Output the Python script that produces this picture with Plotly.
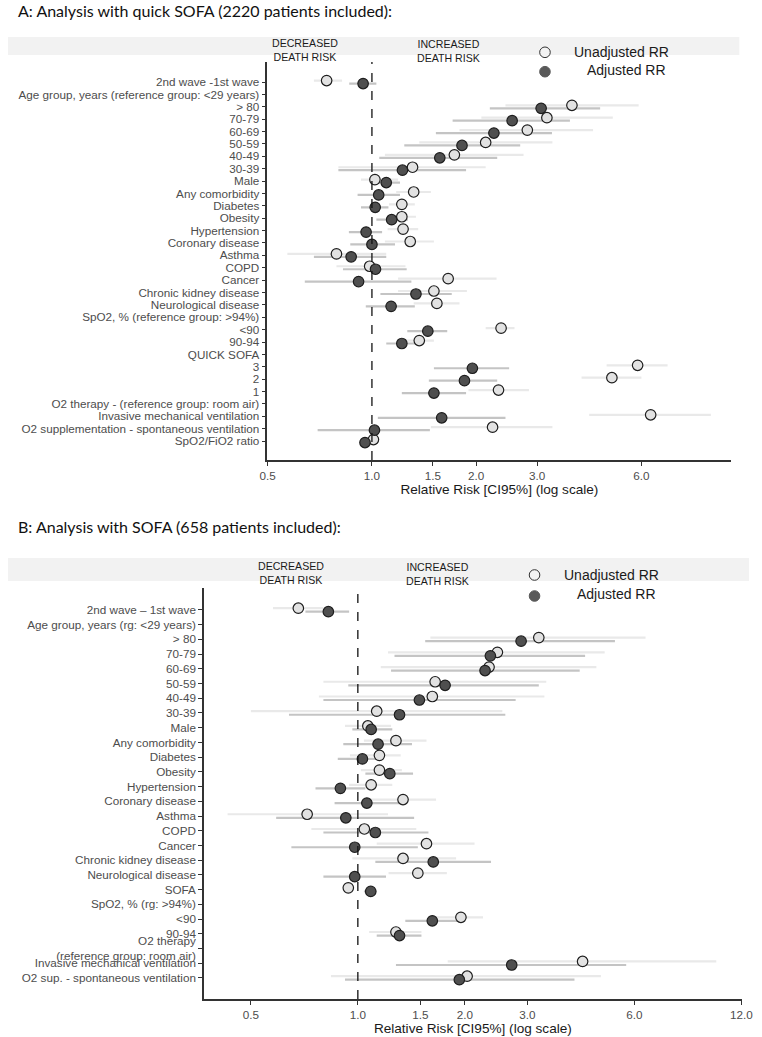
import math
import plotly.graph_objects as go

W, H = 762, 1037

# ---------------- Panel A data ----------------
labels_a = [
    "2nd wave -1st wave", "Age group, years (reference group: <29 years)", "> 80", "70-79",
    "60-69", "50-59", "40-49", "30-39", "Male", "Any comorbidity", "Diabetes", "Obesity",
    "Hypertension", "Coronary disease", "Asthma", "COPD", "Cancer", "Chronic kidney disease",
    "Neurological disease", "SpO2, % (reference group: >94%)", "<90", "90-94", "QUICK SOFA",
    "3", "2", "1", "O2 therapy - (reference group: room air)", "Invasive mechanical ventilation",
    "O2 supplementation - spontaneous ventilation", "SpO2/FiO2 ratio",
]
unadj_a    = [0.74, None, 3.78, 3.20, 2.81, 2.13, 1.73, 1.31, 1.02, 1.32, 1.22, 1.22, 1.23, 1.29, 0.79, 0.985, 1.66, 1.51, 1.54, None, 2.36, 1.37, None, 5.85, 4.93, 2.32, None, 6.38, 2.23, 1.01]
unadj_lo_a = [0.68, None, 2.43, 2.07, 1.79, 1.37, 1.09, 0.80, 0.93, 1.175, 1.12, 1.12, 1.11, 1.09, 0.57, 0.79, 1.19, 1.19, 1.32, None, 2.13, 1.22, None, 4.76, 4.03, 1.90, None, 4.24, 1.48, 0.99]
unadj_hi_a = [0.82, None, 5.89, 4.96, 4.35, 3.32, 2.74, 2.13, 1.19, 1.48, 1.33, 1.34, 1.36, 1.51, 1.10, 1.25, 2.29, 1.88, 1.79, None, 2.58, 1.51, None, 7.14, 6.00, 2.84, None, 9.52, 3.32, 1.03]
adj_a      = [0.943, None, 3.08, 2.54, 2.25, 1.82, 1.57, 1.225, 1.10, 1.046, 1.022, 1.14, 0.962, 1.0, 0.871, 1.024, 0.915, 1.34, 1.136, None, 1.45, 1.22, None, 1.95, 1.85, 1.51, None, 1.59, 1.017, 0.955]
adj_lo_a   = [0.86, None, 2.19, 1.71, 1.53, 1.24, 1.05, 0.80, 1.013, 0.909, 0.93, 1.03, 0.858, 0.866, 0.68, 0.825, 0.64, 1.058, 0.96, None, 1.265, 1.10, None, 1.51, 1.46, 1.22, None, 1.04, 0.697, 0.93]
adj_hi_a   = [1.03, None, 4.56, 3.73, 3.31, 2.68, 2.30, 1.87, 1.205, 1.205, 1.116, 1.27, 1.07, 1.166, 1.10, 1.26, 1.30, 1.70, 1.33, None, 1.65, 1.34, None, 2.49, 2.30, 1.87, None, 2.43, 1.47, 0.98]

# ---------------- Panel B data ----------------
labels_b = [
    "2nd wave \u2013 1st wave", "Age group, years (rg: <29 years)", "> 80", "70-79", "60-69",
    "50-59", "40-49", "30-39", "Male", "Any comorbidity", "Diabetes", "Obesity", "Hypertension",
    "Coronary disease", "Asthma", "COPD", "Cancer", "Chronic kidney disease",
    "Neurological disease", "SOFA", "SpO2, % (rg: >94%)", "<90", "90-94",
    "O2 therapy<br>(reference group: room air)", "Invasive mechanical ventilation",
    "O2 sup. - spontaneous ventilation",
]
unadj_b    = [0.68, None, 3.23, 2.47, 2.34, 1.65, 1.62, 1.13, 1.067, 1.28, 1.15, 1.15, 1.09, 1.34, 0.72, 1.043, 1.56, 1.34, 1.475, 0.94, None, 1.95, 1.28, None, 4.29, 2.03]
unadj_lo_b = [0.577, None, 1.60, 1.216, 1.16, 0.80, 0.777, 0.50, 0.92, 1.04, 0.95, 1.02, 0.945, 1.05, 0.43, 0.74, 1.13, 0.965, 1.22, 0.91, None, 1.63, 1.076, None, 1.79, 0.84]
unadj_hi_b = [0.80, None, 6.45, 4.95, 4.69, 3.39, 3.35, 2.55, 1.24, 1.56, 1.32, 1.33, 1.25, 1.66, 1.216, 1.46, 2.13, 1.89, 1.78, 0.97, None, 2.25, 1.51, None, 10.2, 4.83]
adj_b      = [0.826, None, 2.88, 2.36, 2.28, 1.76, 1.49, 1.31, 1.09, 1.14, 1.03, 1.23, 0.893, 1.06, 0.925, 1.12, 0.98, 1.63, 0.98, 1.087, None, 1.62, 1.31, None, 2.71, 1.93]
adj_lo_b   = [0.712, None, 1.547, 1.268, 1.24, 0.94, 0.80, 0.64, 0.965, 0.91, 0.878, 1.05, 0.76, 0.86, 0.589, 0.80, 0.65, 1.12, 0.80, 1.04, None, 1.36, 1.13, None, 1.28, 0.92]
adj_hi_b   = [0.945, None, 5.29, 4.36, 4.21, 3.23, 2.78, 2.60, 1.25, 1.42, 1.14, 1.43, 1.05, 1.33, 1.44, 1.58, 1.475, 2.37, 1.20, 1.13, None, 1.97, 1.51, None, 5.69, 4.07]

x_ticks_a = [0.5, 1.0, 1.5, 2.0, 3.0, 6.0]
x_ticks_b = [0.5, 1.0, 1.5, 2.0, 3.0, 6.0, 12.0]

# ---------------- styling ----------------
UNADJ_FILL = "#e2e2e2"
ADJ_FILL = "#4f4f4f"
UNADJ_CI = "#e9e9e9"
ADJ_CI = "#c4c4c4"
EDGE = "#1e1e1e"
AXIS_COL = "#333333"
TICK_FONT = dict(family="Liberation Sans, Arial, sans-serif", size=11.7, color="#4d4d4d")
DODGE = 0.12


def px(x):
    return x / W


def py(y):
    return 1 - y / H


fig = go.Figure()


def add_panel(labels, u, ulo, uhi, a, alo, ahi, xa, ya):
    n = len(labels)
    ypos = list(range(n))
    for vals, lo, hi, col, off in ((u, ulo, uhi, UNADJ_CI, -DODGE), (a, alo, ahi, ADJ_CI, DODGE)):
        xs, ys = [], []
        for i in ypos:
            if vals[i] is None:
                continue
            xs += [lo[i], hi[i], None]
            ys += [i + off, i + off, None]
        fig.add_trace(go.Scatter(x=xs, y=ys, mode="lines", line=dict(color=col, width=2.2),
                                 hoverinfo="skip", showlegend=False, xaxis=xa, yaxis=ya))
    for vals, col, off in ((u, UNADJ_FILL, -DODGE), (a, ADJ_FILL, DODGE)):
        xs = [vals[i] for i in ypos if vals[i] is not None]
        ys = [i + off for i in ypos if vals[i] is not None]
        fig.add_trace(go.Scatter(x=xs, y=ys, mode="markers",
                                 marker=dict(size=10.5, color=col, line=dict(color=EDGE, width=1.2)),
                                 showlegend=False, xaxis=xa, yaxis=ya))


add_panel(labels_a, unadj_a, unadj_lo_a, unadj_hi_a, adj_a, adj_lo_a, adj_hi_a, "x", "y")
add_panel(labels_b, unadj_b, unadj_lo_b, unadj_hi_b, adj_b, adj_lo_b, adj_hi_b, "x2", "y2")

xaxis_common = dict(type="log", showgrid=False, zeroline=False, showline=True,
                    linecolor=AXIS_COL, linewidth=1.5, ticks="outside", ticklen=4,
                    tickcolor=AXIS_COL, tickfont=TICK_FONT, ticklabeloverflow="allow",
                    title=dict(text="Relative Risk [CI95%] (log scale)",
                               font=dict(family="Liberation Sans, Arial, sans-serif", size=13.6, color="#1a1a1a"),
                               standoff=2))
yaxis_common = dict(showgrid=False, zeroline=False, showline=True, linecolor=AXIS_COL,
                    linewidth=1.5, ticks="outside", ticklen=4, tickcolor=AXIS_COL,
                    tickfont=TICK_FONT, tickmode="array")

fig.update_layout(
    width=W, height=H, margin=dict(l=0, r=0, t=0, b=0),
    paper_bgcolor="white", plot_bgcolor="white",
    xaxis=dict(xaxis_common, domain=[px(266), px(742)], anchor="y",
               range=[math.log10(0.499), math.log10(10.92)],
               tickvals=x_ticks_a, ticktext=[f"{v:.1f}" for v in x_ticks_a]),
    yaxis=dict(yaxis_common, domain=[py(460), py(62)], anchor="x",
               range=[len(labels_a) - 1 + 1.53, -1.62],
               tickvals=list(range(len(labels_a))), ticktext=labels_a),
    xaxis2=dict(xaxis_common, domain=[px(201), px(752.5)], anchor="y2",
                range=[math.log10(0.369), math.log10(12.03)],
                tickvals=x_ticks_b, ticktext=[f"{v:.1f}" for v in x_ticks_b]),
    yaxis2=dict(yaxis_common, domain=[py(999), py(588)], anchor="x2",
                range=[len(labels_b) - 1 + 1.43, -1.49],
                tickvals=list(range(len(labels_b))), ticktext=labels_b),
)

shapes = []
annots = []
shapes.append(dict(type="rect", xref="paper", yref="paper", x0=0, x1=px(750), y0=py(55), y1=py(37),
                   fillcolor="#f2f2f2", line=dict(width=0), layer="below"))
shapes.append(dict(type="rect", xref="paper", yref="paper", x0=0, x1=px(760), y0=py(581), y1=py(558),
                   fillcolor="#f2f2f2", line=dict(width=0), layer="below"))
for xr, yr in (("x", "y domain"), ("x2", "y2 domain")):
    shapes.append(dict(type="line", xref=xr, yref=yr, x0=1, x1=1, y0=0, y1=1,
                       line=dict(color="#111111", width=1.3, dash="dash")))


def legend_circle(cx, cy, fill, edge):
    return dict(type="circle", xref="paper", yref="paper", xsizemode="pixel", ysizemode="pixel",
                xanchor=px(cx), yanchor=py(cy), x0=-5.3, x1=5.3, y0=-5.3, y1=5.3,
                fillcolor=fill, line=dict(color=edge, width=1))


shapes += [legend_circle(550.7, 52.3, "#f3f3f3", "#333333"),
           legend_circle(550.7, 71.7, "#595959", "#595959"),
           legend_circle(540, 575, "#f3f3f3", "#333333"),
           legend_circle(540, 596, "#595959", "#595959")]

STRIP_FONT = dict(family="Liberation Sans, Arial, sans-serif", size=10.6, color="#1a1a1a")
LEG_FONT = dict(family="Liberation Sans, Arial, sans-serif", size=14, color="#1a1a1a")
TITLE_FONT = dict(family="Lato, Open Sans, sans-serif", size=16, color="#111111")


def ann(text, x, y, font, xanchor="center"):
    return dict(text=text, xref="paper", yref="paper", x=px(x), y=py(y), xanchor=xanchor,
                yanchor="middle", showarrow=False, font=font, align="center")


annots += [
    ann("A: Analysis with quick SOFA (2220 patients included):", 8, 11, TITLE_FONT, "left"),
    ann("B: Analysis with SOFA (658 patients included):", 8, 526, TITLE_FONT, "left"),
    ann("DECREASED<br>DEATH RISK", 305, 49.7, STRIP_FONT),
    ann("INCREASED<br>DEATH RISK", 452, 51.3, STRIP_FONT),
    ann("DECREASED<br>DEATH RISK", 290, 573.3, STRIP_FONT),
    ann("INCREASED<br>DEATH RISK", 440.7, 574.2, STRIP_FONT),
    ann("Unadjusted RR", 578, 52.3, LEG_FONT, "left"),
    ann("Adjusted RR", 591.7, 70.5, LEG_FONT, "left"),
    ann("Unadjusted RR", 568, 575, LEG_FONT, "left"),
    ann("Adjusted RR", 582, 593.5, LEG_FONT, "left"),
]

fig.update_layout(shapes=shapes, annotations=annots)
fig.write_html(
    "out.html",
    config={"displayModeBar": False},
    post_script=(
        "document.documentElement.style.margin='0';document.documentElement.style.padding='0';"
        "document.body.style.margin='0';document.body.style.padding='0';"
        "document.body.style.overflow='hidden';"
        "var gd=document.getElementById('{plot_id}');gd.style.position='absolute';"
        "gd.style.left='0px';gd.style.top='0px';"
    ),
)
